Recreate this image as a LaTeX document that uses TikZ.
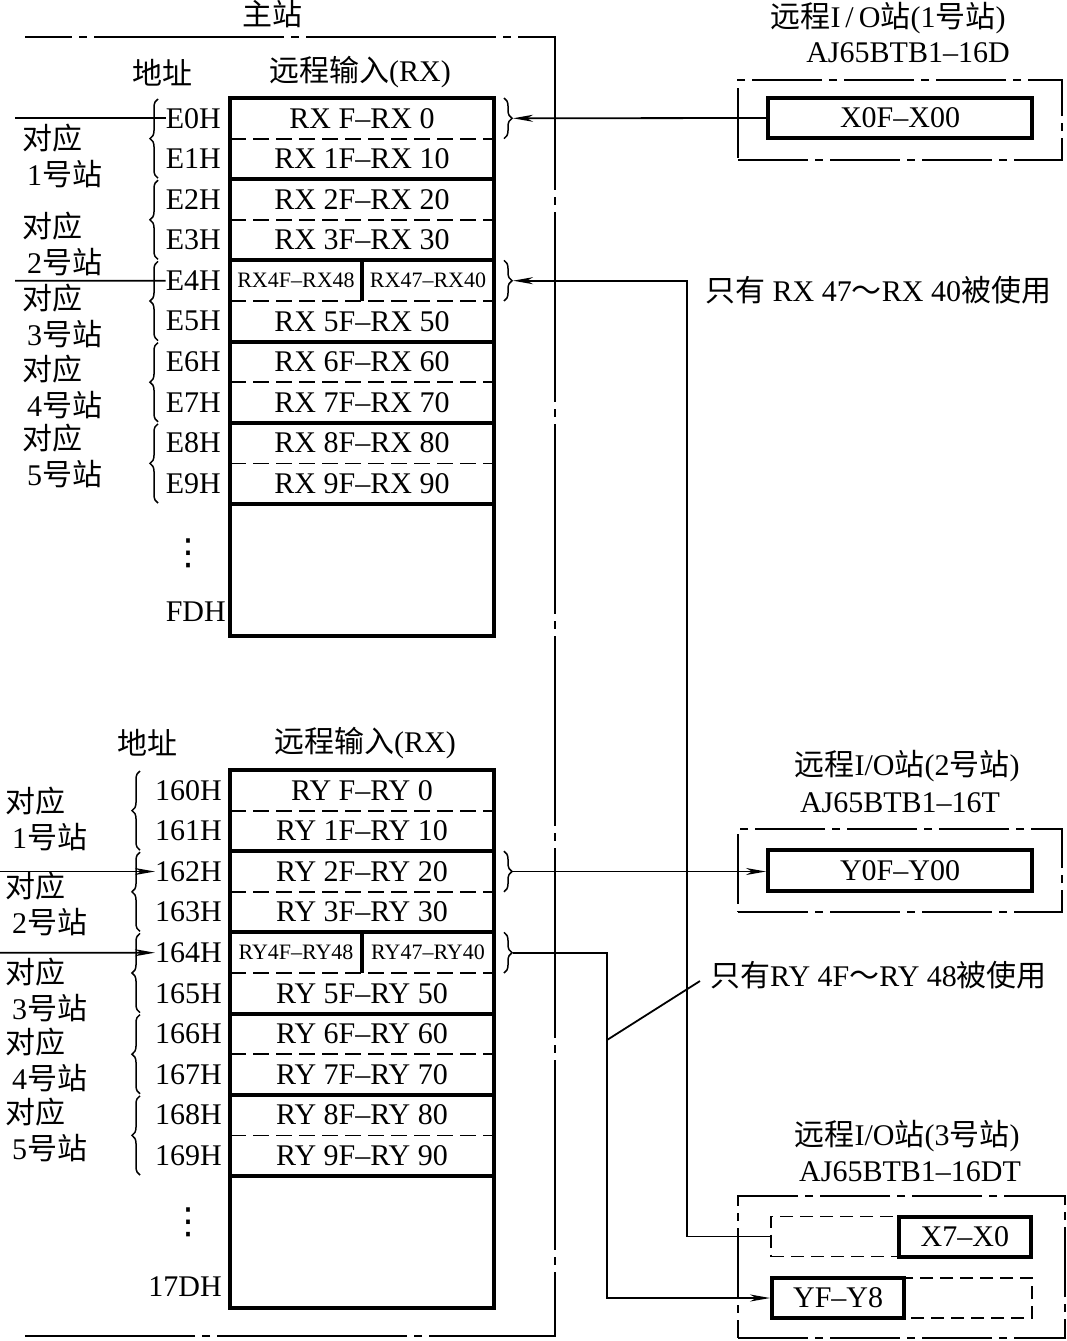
\documentclass[tikz,border=0pt]{standalone}
\usepackage{fontspec}
\setmainfont{Liberation Serif}
\newfontfamily\cjk{Noto Sans CJK SC}
\newfontfamily\sym{DejaVu Sans}
\newcommand\zh[1]{{\cjk #1}}
\usetikzlibrary{arrows.meta, positioning, calc, decorations.pathreplacing}

\begin{document}
\begin{tikzpicture}[
    x=1pt, y=-1pt,
    font=\fontsize{30}{36}\selectfont,
    cell/.style={minimum width=264pt, minimum height=40.6pt, inner sep=0pt, outer sep=0pt},
    halfcell/.style={minimum width=132pt, minimum height=40.6pt, inner sep=0pt, outer sep=0pt,
        font=\fontsize{22}{26}\selectfont},
    addr/.style={inner sep=0pt},
    dots/.style={inner sep=0pt, font=\sym\fontsize{36}{40}\selectfont},
    stn/.style={anchor=west, align=left, inner sep=0pt},
    thickline/.style={line width=4pt},
    halfline/.style={line width=1.8pt, dash pattern=on 16pt off 7pt},
    frame/.style={line width=1.8pt, dash pattern=on 190pt off 7pt on 8pt off 7pt, dash phase=143pt},
    ioframe/.style={draw, line width=1.8pt, dash pattern=on 70pt off 7pt on 8pt off 7pt,
        minimum width=324pt, minimum height=80pt, inner sep=0pt},
    unit/.style={draw, line width=4pt, minimum width=264pt, minimum height=40pt, inner sep=0pt},
    halfunit/.style={draw, line width=1.8pt, dash pattern=on 13pt off 7pt,
        minimum width=261pt, minimum height=40pt, inner sep=0pt},
    link/.style={line width=1.8pt},
    flow/.style={-{Stealth[length=20pt, width=7pt, inset=6pt]}, line width=1.8pt},
    bracel/.style={decorate, decoration={brace, amplitude=8pt}, line width=1.5pt},
]
\useasboundingbox (0,0) rectangle (1066,1341);

% ================= master station =================
\node (master) at (272,14) {\zh{主站}};
\draw[frame] (25,37) -- (555,37) -- (555,1336) -- (25,1336);

% ---------- RX table ----------
\node (rxaddr) at (162,73) {\zh{地址}};
\node (rxhead) at (360,72) {\zh{远程输入}(RX)};
\node[cell] (rx0) at (362,118.3) {RX F--RX 0};
\node[cell, below=0pt of rx0] (rx1) {RX 1F--RX 10};
\node[cell, below=0pt of rx1] (rx2) {RX 2F--RX 20};
\node[cell, below=0pt of rx2] (rx3) {RX 3F--RX 30};
\node[cell, below=0pt of rx3] (rx4) {};
\node[halfcell, anchor=west] (rx4a) at (rx4.west) {RX4F--RX48};
\node[halfcell, anchor=east] (rx4b) at (rx4.east) {RX47--RX40};
\node[cell, below=0pt of rx4] (rx5) {RX 5F--RX 50};
\node[cell, below=0pt of rx5] (rx6) {RX 6F--RX 60};
\node[cell, below=0pt of rx6] (rx7) {RX 7F--RX 70};
\node[cell, below=0pt of rx7] (rx8) {RX 8F--RX 80};
\node[cell, below=0pt of rx8] (rx9) {RX 9F--RX 90};
\node[cell, minimum height=132pt, below=0pt of rx9] (rxz) {};
\draw[thickline] (rx0.north west) rectangle (rxz.south east);
\foreach \r in {rx1,rx3,rx5,rx7,rx9}
    \draw[thickline] (\r.south west) -- (\r.south east);
\foreach \r in {rx0,rx2,rx4,rx6,rx8}
    \draw[halfline] (\r.south west) -- (\r.south east);
\draw[thickline] (rx4a.north east) -- (rx4a.south east);

\node[addr, left=9pt of rx0] (e0) {E0H};
\node[addr, left=9pt of rx1] (e1) {E1H};
\node[addr, left=9pt of rx2] (e2) {E2H};
\node[addr, left=9pt of rx3] (e3) {E3H};
\node[addr, left=9pt of rx4] (e4) {E4H};
\node[addr, left=9pt of rx5] (e5) {E5H};
\node[addr, left=9pt of rx6] (e6) {E6H};
\node[addr, left=9pt of rx7] (e7) {E7H};
\node[addr, left=9pt of rx8] (e8) {E8H};
\node[addr, left=9pt of rx9] (e9) {E9H};
\node[dots] (rxdots) at (188,553) {⋮};
\node[addr, anchor=east] (efd) at (226,612) {FDH};

\foreach \a/\b in {rx1/rx0,rx3/rx2,rx5/rx4,rx7/rx6,rx9/rx8}
    \draw[bracel] ([xshift=-72pt,yshift=1pt]\a.south west) -- ([xshift=-72pt,yshift=-1pt]\b.north west);
\node[stn] (rs1) at (22,156) {\zh{对应}\\\hspace{5pt}1\zh{号站}};
\node[stn] (rs2) at (22,244) {\zh{对应}\\\hspace{5pt}2\zh{号站}};
\node[stn] (rs3) at (22,316) {\zh{对应}\\\hspace{5pt}3\zh{号站}};
\node[stn] (rs4) at (22,387) {\zh{对应}\\\hspace{5pt}4\zh{号站}};
\node[stn] (rs5) at (22,456) {\zh{对应}\\\hspace{5pt}5\zh{号站}};
\coordinate (rin1) at (15,118.3);
\coordinate (rin4) at (15,280.7);
\draw[link] (rin1) -- (e0.west);
\draw[link] (rin4) -- (e4.west);

% right braces (RX)
\draw[bracel] ([xshift=10pt]rx0.north east) -- ([xshift=10pt]rx0.south east);
\draw[bracel] ([xshift=10pt]rx4.north east) -- ([xshift=10pt]rx4.south east);
\coordinate (b0) at ([xshift=19pt]rx0.east);
\coordinate (b4) at ([xshift=19pt]rx4.east);

% ---------- RY table ----------
\node (ryaddr) at (147,743) {\zh{地址}};
\node (ryhead) at (365,743) {\zh{远程输入}(RX)};
\node[cell] (ry0) at (362,790.3) {RY F--RY 0};
\node[cell, below=0pt of ry0] (ry1) {RY 1F--RY 10};
\node[cell, below=0pt of ry1] (ry2) {RY 2F--RY 20};
\node[cell, below=0pt of ry2] (ry3) {RY 3F--RY 30};
\node[cell, below=0pt of ry3] (ry4) {};
\node[halfcell, anchor=west] (ry4a) at (ry4.west) {RY4F--RY48};
\node[halfcell, anchor=east] (ry4b) at (ry4.east) {RY47--RY40};
\node[cell, below=0pt of ry4] (ry5) {RY 5F--RY 50};
\node[cell, below=0pt of ry5] (ry6) {RY 6F--RY 60};
\node[cell, below=0pt of ry6] (ry7) {RY 7F--RY 70};
\node[cell, below=0pt of ry7] (ry8) {RY 8F--RY 80};
\node[cell, below=0pt of ry8] (ry9) {RY 9F--RY 90};
\node[cell, minimum height=132pt, below=0pt of ry9] (ryz) {};
\draw[thickline] (ry0.north west) rectangle (ryz.south east);
\foreach \r in {ry1,ry3,ry5,ry7,ry9}
    \draw[thickline] (\r.south west) -- (\r.south east);
\foreach \r in {ry0,ry2,ry4,ry6,ry8}
    \draw[halfline] (\r.south west) -- (\r.south east);
\draw[thickline] (ry4a.north east) -- (ry4a.south east);

\node[addr, left=8pt of ry0] (h0) {160H};
\node[addr, left=8pt of ry1] (h1) {161H};
\node[addr, left=8pt of ry2] (h2) {162H};
\node[addr, left=8pt of ry3] (h3) {163H};
\node[addr, left=8pt of ry4] (h4) {164H};
\node[addr, left=8pt of ry5] (h5) {165H};
\node[addr, left=8pt of ry6] (h6) {166H};
\node[addr, left=8pt of ry7] (h7) {167H};
\node[addr, left=8pt of ry8] (h8) {168H};
\node[addr, left=8pt of ry9] (h9) {169H};
\node[dots] (rydots) at (188,1222) {⋮};
\node[addr, anchor=east] (h7d) at (222,1287) {17DH};

\foreach \a/\b in {ry1/ry0,ry3/ry2,ry5/ry4,ry7/ry6,ry9/ry8}
    \draw[bracel] ([xshift=-90pt,yshift=1pt]\a.south west) -- ([xshift=-90pt,yshift=-1pt]\b.north west);
\node[stn] (ys1) at (5,819) {\zh{对应}\\\hspace{7pt}1\zh{号站}};
\node[stn] (ys2) at (5,904) {\zh{对应}\\\hspace{7pt}2\zh{号站}};
\node[stn] (ys3) at (5,990) {\zh{对应}\\\hspace{7pt}3\zh{号站}};
\node[stn] (ys4) at (5,1060) {\zh{对应}\\\hspace{7pt}4\zh{号站}};
\node[stn] (ys5) at (5,1130) {\zh{对应}\\\hspace{7pt}5\zh{号站}};
\coordinate (yin2) at (0,871.5);
\coordinate (yin4) at (0,952.7);
\draw[flow] (yin2) -- (h2.west);
\draw[flow] (yin4) -- (h4.west);

% right braces (RY)
\draw[bracel] ([xshift=10pt]ry2.north east) -- ([xshift=10pt]ry2.south east);
\draw[bracel] ([xshift=10pt]ry4.north east) -- ([xshift=10pt]ry4.south east);
\coordinate (c2) at ([xshift=19pt]ry2.east);
\coordinate (c4) at ([xshift=19pt]ry4.east);

% ================= remote I/O stations =================
\node (t1) at (888,18) {\zh{远程}I\,/\,O\zh{站}(1\zh{号站})};
\node (m1) at (908,53) {AJ65BTB1--16D};
\node[ioframe] (st1) at (900,120) {};
\node[unit] (x1) at (900,118) {X0F--X00};

\node (t2) at (907,766) {\zh{远程}I/O\zh{站}(2\zh{号站})};
\node (m2) at (900,803) {AJ65BTB1--16T};
\node[ioframe, minimum height=83pt] (st2) at (900,870.5) {};
\node[unit, minimum height=41pt] (y0) at (900,870.5) {Y0F--Y00};

\node (t3) at (907,1136) {\zh{远程}I/O\zh{站}(3\zh{号站})};
\node (m3) at (910,1172) {AJ65BTB1--16DT};
\node[ioframe, minimum width=327pt, minimum height=142pt] (st3) at (901.5,1267) {};
\node[halfunit] (xin) at (901.5,1236.5) {};
\node[unit, minimum width=132pt, anchor=east] (x7) at (xin.east) {X7--X0};
\node[halfunit] (yout) at (901.5,1298) {};
\node[unit, minimum width=132pt, anchor=west] (y8) at (yout.west) {YF--Y8};

% notes
\node[anchor=west, inner sep=0pt] (note1) at (705,290) {\zh{只有} RX 47\zh{～}RX 40\zh{被使用}};
\node[anchor=west, inner sep=0pt] (note2) at (710,975) {\zh{只有}RY 4F\zh{～}RY 48\zh{被使用}};

% connections
\draw[flow] (x1.west) -- (b0);
\draw[flow] (xin.west) -- ++(-83,0) |- (b4);
\draw[flow] (c2) -- (c2 -| y0.west);
\draw[flow] (c4) -- ++(94,0) |- (y8.west);
\coordinate (ld) at (607,1040);
\draw[link] (ld) -- ([xshift=-10pt,yshift=-6pt]note2.west);

\end{tikzpicture}
\end{document}
